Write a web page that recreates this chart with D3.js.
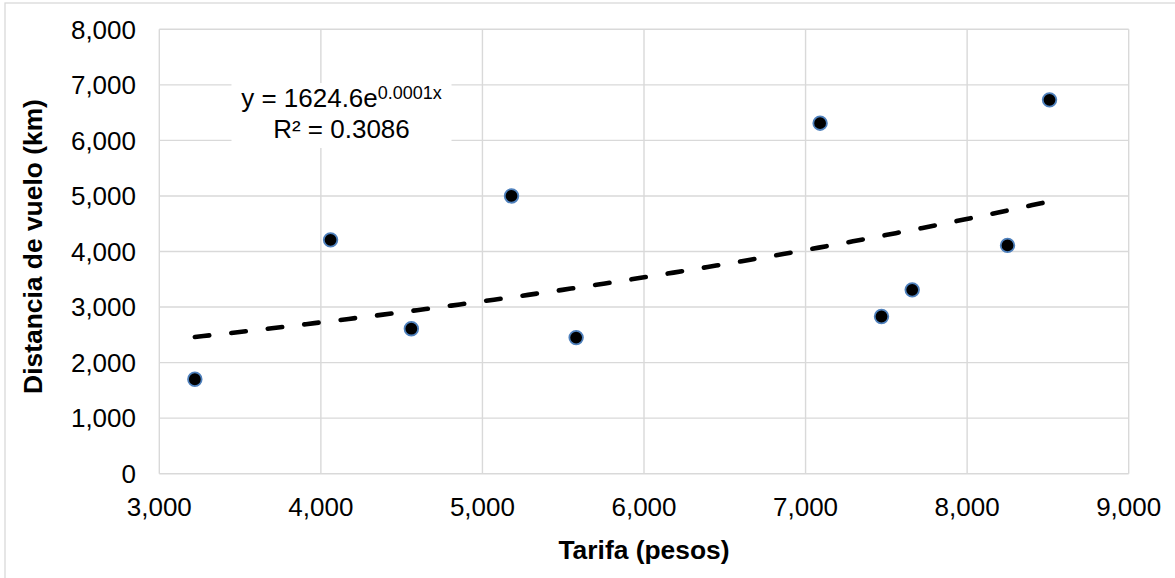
<!DOCTYPE html>
<html>
<head>
<meta charset="utf-8">
<script src="https://cdn.jsdelivr.net/npm/d3@7"></script>
<style>
  html, body { margin: 0; padding: 0; background: #fff; }
  svg { display: block; font-family: "Liberation Sans", Arial, sans-serif; }
</style>
</head>
<body>
<svg id="chart" width="1175" height="578"></svg>
<script>
// ---- data ----
const tarifa    = [3220, 4060, 4560, 5180, 5580, 7090, 7470, 7660, 8250, 8510];
const distancia = [1700, 4210, 2610, 5000, 2450, 6310, 2830, 3310, 4110, 6730];
const xTicks = [3000, 4000, 5000, 6000, 7000, 8000, 9000];
const yTicks = [0, 1000, 2000, 3000, 4000, 5000, 6000, 7000, 8000];
const xTitle = "Tarifa (pesos)";
const yTitle = "Distancia de vuelo (km)";
const eqMain = "y = 1624.6e";
const eqSup  = "0.0001x";
const eqR2   = "R² = 0.3086";

// ---- layout ----
const W = 1175, H = 578;
const plot = { left: 159.3, right: 1128.7, top: 29.3, bottom: 473.7 };
const svg = d3.select("#chart");
const fmt = d3.format(",");

const x = d3.scaleLinear().domain([3000, 9000]).range([plot.left, plot.right]);
const y = d3.scaleLinear().domain([0, 8000]).range([plot.bottom, plot.top]);

// chart outer border
svg.append("rect").attr("x", 5).attr("y", 3).attr("width", W + 10).attr("height", H + 10)
  .attr("fill", "#fff").attr("stroke", "#d9d9d9").attr("stroke-width", 1.3);

const grid = "#d9d9d9";
// vertical gridlines
svg.append("g").selectAll("line").data(xTicks).join("line")
  .attr("x1", d => x(d)).attr("x2", d => x(d))
  .attr("y1", plot.top).attr("y2", plot.bottom)
  .attr("stroke", grid).attr("stroke-width", 1.4);
// horizontal gridlines
svg.append("g").selectAll("line").data(yTicks).join("line")
  .attr("x1", plot.left).attr("x2", plot.right)
  .attr("y1", d => y(d)).attr("y2", d => y(d))
  .attr("stroke", grid).attr("stroke-width", 1.4);

// tick labels
svg.append("g").selectAll("text").data(xTicks).join("text")
  .attr("x", d => x(d)).attr("y", 516)
  .attr("text-anchor", "middle").attr("font-size", 26).attr("fill", "#000")
  .text(d => fmt(d));
svg.append("g").selectAll("text").data(yTicks).join("text")
  .attr("x", 136).attr("y", d => y(d) + 9.2)
  .attr("text-anchor", "end").attr("font-size", 26).attr("fill", "#000")
  .text(d => fmt(d));

// axis titles
svg.append("text").attr("x", (plot.left + plot.right) / 2).attr("y", 559)
  .attr("text-anchor", "middle").attr("font-size", 26.4).attr("font-weight", "bold")
  .text(xTitle);
svg.append("text").attr("transform", `translate(42,${(plot.top + plot.bottom) / 2 - 5}) rotate(-90)`)
  .attr("text-anchor", "middle").attr("font-size", 26.4).attr("font-weight", "bold")
  .text(yTitle);

// exponential trendline: least squares on ln(y)
const n = tarifa.length;
const ly = distancia.map(v => Math.log(v));
const mx = d3.mean(tarifa), my = d3.mean(ly);
let sxy = 0, sxx = 0;
for (let i = 0; i < n; i++) { sxy += (tarifa[i] - mx) * (ly[i] - my); sxx += (tarifa[i] - mx) ** 2; }
const b = sxy / sxx, a = Math.exp(my - b * mx);
const [xmin, xmax] = d3.extent(tarifa);
const trendPts = d3.range(0, 101).map(i => {
  const xv = xmin + (xmax - xmin) * i / 100;
  return [xv, a * Math.exp(b * xv)];
});
svg.append("path").datum(trendPts)
  .attr("d", d3.line().x(d => x(d[0])).y(d => y(d[1])))
  .attr("fill", "none").attr("stroke", "#000").attr("stroke-width", 4.6)
  .attr("stroke-linecap", "round").attr("stroke-dasharray", "14.5 22.2");

// points
svg.append("g").selectAll("circle").data(tarifa.map((t, i) => [t, distancia[i]])).join("circle")
  .attr("cx", d => x(d[0])).attr("cy", d => y(d[1])).attr("r", 6.8)
  .attr("fill", "#000").attr("stroke", "#4f81bd").attr("stroke-width", 1.8);

// equation label
svg.append("rect").attr("x", 231.5).attr("y", 83).attr("width", 220).attr("height", 65).attr("fill", "#fff");
const eq = svg.append("text").attr("x", 341.5).attr("y", 106.7)
  .attr("text-anchor", "middle").attr("font-size", 26).attr("fill", "#000");
eq.append("tspan").text(eqMain);
eq.append("tspan").attr("font-size", 18).attr("dy", -8).text(eqSup);
svg.append("text").attr("x", 341.5).attr("y", 137.7)
  .attr("text-anchor", "middle").attr("font-size", 26).attr("fill", "#000")
  .text(eqR2);
</script>
</body>
</html>
